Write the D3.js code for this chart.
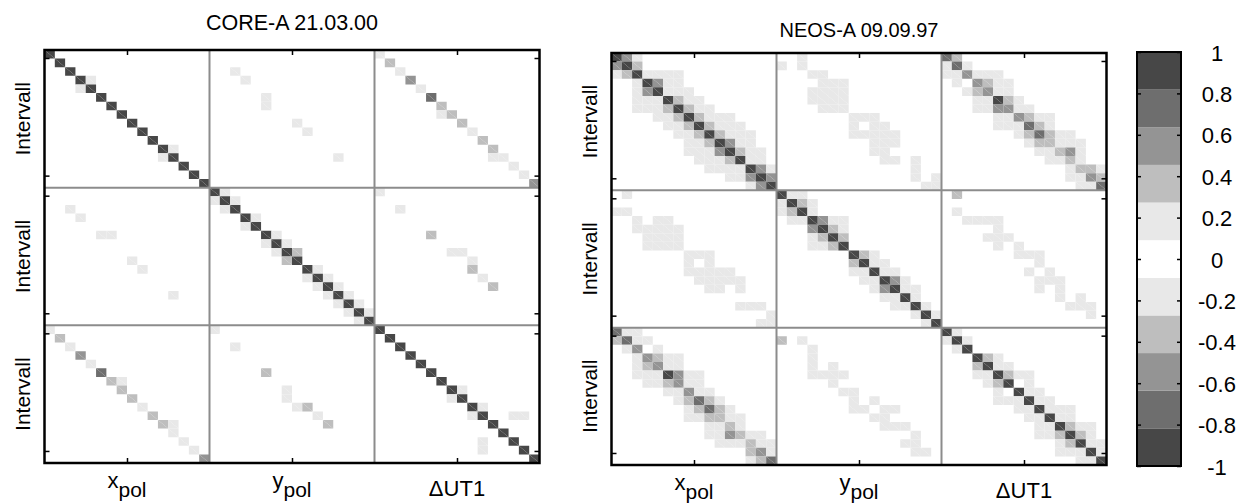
<!DOCTYPE html>
<html>
<head>
<meta charset="utf-8">
<script src="https://cdn.jsdelivr.net/npm/d3@7"></script>
<style>
  body { margin: 0; background: #fff; }
  text { font-family: "Liberation Sans", Arial, sans-serif; fill: #000; }
</style>
</head>
<body>
<svg id="chart" width="1242" height="504"></svg>
<script>
// intervals per parameter block
const nInt = 16
const paramNames = ["x", "y", "\u0394UT1"]
const paramSubs = ["pol", "pol", ""]
const titles = ["CORE-A 21.03.00", "NEOS-A 09.09.97"]
const cbTicks = [-1, -0.8, -0.6, -0.4, -0.2, 0, 0.2, 0.4, 0.6, 0.8, 1]
const levelColors = ["#474747", "#6e6e6e", "#949494", "#bebebe", "#e8e8e8", "#ffffff",
                     "#e8e8e8", "#bebebe", "#949494", "#6e6e6e", "#474747"]

// off-diagonal correlations [row, col, r], upper triangle (matrix is symmetric, diagonal = 1)
const coreA = [
  [3,4,.18],[11,12,.18],
  [2,18,.18],[3,19,.18],[5,21,.18],[6,21,.18],[8,24,.18],[9,25,.18],[12,28,.18],
  [0,32,.18],[1,33,.35],[2,34,.18],[3,35,.55],[4,36,.18],[5,37,.7],[6,38,.35],[7,38,.18],
  [7,39,.35],[8,40,.35],[9,41,.18],[10,42,.35],[11,43,.35],[12,43,.18],[12,44,.18],
  [13,45,.18],[14,46,.18],[15,47,.55],
  [16,17,.18],[17,18,.18],[19,20,.18],[21,22,.18],[22,23,.18],[23,24,.35],[25,26,.18],
  [26,27,.18],[27,28,.18],[28,29,.18],[29,30,.18],[30,31,.18],
  [16,32,.18],[18,34,.18],[21,37,.35],[23,39,.18],[23,40,.18],[24,41,.18],[25,41,.35],
  [26,42,.18],[27,43,.35],
  [39,40,.18],[41,42,.18],[42,45,.18],[42,46,.18]
]

const neosA = [
  [0,1,.55],[0,2,.18],[1,2,.35],
  [2,3,.18],[2,4,.18],[2,5,.18],[2,6,.18],
  [3,4,.55],[3,5,.18],[3,6,.18],
  [4,5,.18],[4,6,.18],[4,7,.18],
  [5,6,.35],[5,7,.18],[5,8,.18],
  [6,7,.35],[6,8,.18],[6,9,.18],
  [7,8,.35],[7,9,.18],[7,10,.18],[7,11,.18],
  [8,9,.35],[8,10,.18],[8,11,.18],[8,12,.18],
  [9,10,.35],[9,11,.18],[9,12,.18],[9,13,.18],
  [10,11,.55],[10,12,.18],[10,13,.18],
  [11,12,.35],[11,13,.18],[11,14,.18],
  [12,13,.18],[12,14,.18],
  [13,14,.55],[13,15,.18],
  [14,15,.55],
  [1,16,.18],[0,18,.18],[1,18,.18],
  [2,19,.18],[2,20,.18],
  [3,20,.18],[3,21,.18],[3,22,.18],
  [4,19,.18],[4,20,.18],[4,21,.18],[4,22,.18],
  [5,19,.18],[5,20,.18],[5,21,.18],[5,22,.18],
  [6,20,.18],[6,21,.18],[6,22,.18],
  [7,23,.18],[7,24,.18],[7,25,.18],
  [8,23,.18],[8,25,.18],[8,26,.18],
  [9,23,.18],[9,24,.18],[9,25,.18],[9,26,.18],[9,27,.18],
  [10,25,.18],[10,26,.18],[10,27,.18],
  [11,25,.18],[11,26,.18],
  [12,26,.18],[12,27,.18],[12,29,.18],
  [13,29,.18],
  [14,29,.18],[14,31,.18],
  [15,30,.18],[15,31,.18],
  [0,32,.7],[0,33,.35],
  [1,32,.18],[1,33,.7],[1,34,.18],
  [2,32,.18],[2,33,.18],[2,34,.55],[2,35,.18],[2,36,.18],[2,37,.18],
  [3,33,.18],[3,35,.55],[3,36,.35],[3,37,.18],[3,38,.18],
  [4,34,.18],[4,35,.35],[4,36,.55],[4,37,.18],[4,38,.18],
  [5,35,.18],[5,36,.18],[5,37,.9],[5,38,.35],[5,39,.18],
  [6,35,.18],[6,36,.18],[6,37,.55],[6,38,.55],[6,39,.18],[6,40,.18],
  [7,37,.18],[7,38,.18],[7,39,.55],[7,40,.35],[7,41,.18],[7,42,.18],
  [8,37,.18],[8,38,.18],[8,39,.18],[8,40,.7],[8,41,.35],[8,42,.18],
  [9,39,.18],[9,40,.35],[9,41,.7],[9,42,.35],[9,43,.18],[9,44,.18],
  [10,40,.18],[10,41,.35],[10,42,.35],[10,43,.18],[10,44,.18],[10,45,.18],
  [11,41,.18],[11,42,.18],[11,43,.35],[11,44,.55],[11,45,.18],
  [12,42,.18],[12,43,.18],[12,44,.35],[12,45,.18],
  [13,44,.18],[13,45,.35],[13,46,.35],[13,47,.18],
  [14,44,.18],[14,45,.18],[14,46,.55],[14,47,.35],
  [15,45,.18],[15,46,.18],[15,47,.7],
  [16,17,.18],[16,18,.18],[17,18,.35],[17,19,.18],[18,19,.18],[19,20,.55],[19,21,.18],
  [19,22,.18],[20,21,.35],[20,22,.18],[21,22,.35],[23,24,.35],[23,25,.18],[24,25,.18],
  [24,26,.18],[25,26,.18],[25,27,.18],[26,27,.55],[26,28,.18],[27,28,.18],[27,29,.18],
  [28,29,.18],[29,30,.18],[30,31,.18],
  [16,33,.35],[18,33,.18],[19,34,.18],[19,35,.18],[19,36,.18],[19,37,.18],[20,37,.18],
  [21,36,.18],[21,37,.18],[21,38,.18],[22,37,.18],[22,39,.18],[23,39,.18],[23,40,.18],
  [23,41,.18],[24,41,.18],[25,40,.18],[25,42,.18],[26,41,.18],[26,42,.18],[26,43,.18],
  [27,41,.18],[27,43,.18],[28,43,.18],[28,45,.18],[29,44,.18],[29,45,.18],[29,46,.18],
  [30,46,.18],
  [32,33,.18],[33,34,.18],[35,36,.35],[35,37,.18],[36,37,.18],[36,38,.18],[37,38,.35],
  [37,39,.18],[37,40,.18],[38,40,.18],[39,40,.18],[39,41,.18],[40,41,.18],[40,42,.18],
  [41,42,.18],[41,43,.18],[41,44,.18],[42,43,.18],[42,44,.18],[43,44,.35],[43,45,.18],
  [43,46,.18],[44,45,.35],[44,46,.18],[45,46,.18],[45,47,.18],[46,47,.18]
]

const nTot = nInt * paramNames.length

let svg = d3.select("#chart")

let color = d3.scaleQuantize().domain([-1, 1]).range(levelColors)

let panels = [
  { title: titles[0], entries: coreA, x0: 44.5, x1: 539.5, y0: 50, y1: 463, titleY: 30, fs: 21.5, labY: 489 },
  { title: titles[1], entries: neosA, x0: 611.5, x1: 1106.5, y0: 53, y1: 465, titleY: 37, fs: 20, labY: 491 }
]

// build the full symmetric matrix from the upper triangle
function buildMatrix(entries) {
  let m = d3.range(nTot).map(i => d3.range(nTot).map(j => (i === j ? 1 : 0)))
  entries.forEach(([i, j, r]) => {
    m[i][j] = r
    m[j][i] = r
  })
  let cells = []
  m.forEach((row, i) => row.forEach((r, j) => cells.push({ i, j, r })))
  return cells
}

panels.forEach(p => {
  let x = d3.scaleLinear().domain([0, nTot]).range([p.x0, p.x1])
  let y = d3.scaleLinear().domain([0, nTot]).range([p.y0, p.y1])
  let g = svg.append("g")

  // each cell drawn as two triangles, like the original mesh
  let cells = buildMatrix(p.entries).filter(d => color(d.r) !== "#ffffff")
  g.selectAll("path.cell")
    .data(cells.flatMap(d => [{ ...d, t: 0 }, { ...d, t: 1 }]))
    .enter()
    .append("path")
    .attr("class", "cell")
    .attr("d", d => {
      let xa = x(d.j), xb = x(d.j + 1), ya = y(d.i), yb = y(d.i + 1)
      return d.t === 0
        ? `M${xa},${ya}L${xb},${ya}L${xb},${yb}Z`
        : `M${xa},${ya}L${xa},${yb}L${xb},${yb}Z`
    })
    .attr("fill", d => color(d.r))

  // block dividers
  let divs = d3.range(1, paramNames.length).map(k => k * nInt)
  g.selectAll("line.vdiv").data(divs).enter().append("line")
    .attr("x1", d => x(d)).attr("x2", d => x(d))
    .attr("y1", p.y0).attr("y2", p.y1)
    .attr("stroke", "#8c8c8c").attr("stroke-width", 2)
  g.selectAll("line.hdiv").data(divs).enter().append("line")
    .attr("y1", d => y(d)).attr("y2", d => y(d))
    .attr("x1", p.x0).attr("x2", p.x1)
    .attr("stroke", "#8c8c8c").attr("stroke-width", 2)

  // ticks
  let xTicks = d3.range(paramNames.length).map(k => k * nInt + nInt / 2)
  let yTicks = d3.range(paramNames.length).flatMap(k => [k * nInt + 0.93, k * nInt + 14.6])
  let axes = [
    g.append("g").attr("transform", `translate(0,${p.y0})`)
      .call(d3.axisTop(x).tickValues(xTicks).tickSizeInner(-5).tickSizeOuter(0).tickFormat("")),
    g.append("g").attr("transform", `translate(0,${p.y1})`)
      .call(d3.axisBottom(x).tickValues(xTicks).tickSizeInner(-5).tickSizeOuter(0).tickFormat("")),
    g.append("g").attr("transform", `translate(${p.x0},0)`)
      .call(d3.axisLeft(y).tickValues(yTicks).tickSizeInner(-5).tickSizeOuter(0).tickFormat("")),
    g.append("g").attr("transform", `translate(${p.x1},0)`)
      .call(d3.axisRight(y).tickValues(yTicks).tickSizeInner(-5).tickSizeOuter(0).tickFormat(""))
  ]
  axes.forEach(a => {
    a.select(".domain").remove()
    a.selectAll("line").attr("stroke", "#000").attr("stroke-width", 1.5)
  })

  // frame
  g.append("rect")
    .attr("x", p.x0).attr("y", p.y0)
    .attr("width", p.x1 - p.x0).attr("height", p.y1 - p.y0)
    .attr("fill", "none").attr("stroke", "#000").attr("stroke-width", 2.5)

  // title
  g.append("text")
    .attr("x", (p.x0 + p.x1) / 2).attr("y", p.titleY)
    .attr("text-anchor", "middle").attr("font-size", p.fs)
    .text(p.title)

  // left labels
  d3.range(paramNames.length).forEach(k => {
    g.append("text")
      .attr("transform", `translate(${p.x0 - 22},${y(k * nInt + nInt / 2)}) rotate(-90)`)
      .attr("text-anchor", "middle").attr("dominant-baseline", "central")
      .attr("font-size", 21)
      .text("Intervall")
  })

  // bottom labels
  paramNames.forEach((name, k) => {
    let t = g.append("text")
      .attr("x", x(k * nInt + nInt / 2))
      .attr("y", paramSubs[k] ? p.labY - 1 : p.labY + 7)
      .attr("text-anchor", "middle").attr("font-size", 22)
    t.append("tspan").text(name)
    if (paramSubs[k]) t.append("tspan").attr("dy", 9).attr("font-size", 21).text(paramSubs[k])
  })
})

// colour bar
let cbX = 1137, cbW = 44
let cb = d3.scaleLinear().domain([-1, 1]).range([466, 52])
let cbg = svg.append("g")
cbg.selectAll("rect.band")
  .data(levelColors.map((c, i) => ({ c, i })))
  .enter()
  .append("rect")
  .attr("x", cbX)
  .attr("y", d => cb(-1 + (d.i + 1) * 2 / levelColors.length))
  .attr("width", cbW)
  .attr("height", d => cb(-1 + d.i * 2 / levelColors.length) - cb(-1 + (d.i + 1) * 2 / levelColors.length))
  .attr("fill", d => d.c)

let cbAxR = cbg.append("g").attr("transform", `translate(${cbX + cbW},0)`)
  .call(d3.axisRight(cb).tickValues(cbTicks).tickSizeInner(-4).tickSizeOuter(0).tickFormat(""))
let cbAxL = cbg.append("g").attr("transform", `translate(${cbX},0)`)
  .call(d3.axisLeft(cb).tickValues(cbTicks).tickSizeInner(-4).tickSizeOuter(0).tickFormat(""))
;[cbAxR, cbAxL].forEach(a => {
  a.select(".domain").remove()
  a.selectAll("line").attr("stroke", "#000").attr("stroke-width", 1.5)
})
cbg.append("rect")
  .attr("x", cbX).attr("y", 52).attr("width", cbW).attr("height", 414)
  .attr("fill", "none").attr("stroke", "#000").attr("stroke-width", 2)

cbg.selectAll("text.cbl")
  .data(cbTicks)
  .enter()
  .append("text")
  .attr("x", 1217)
  .attr("y", d => cb(d) + 1)
  .attr("text-anchor", "middle")
  .attr("dominant-baseline", "central")
  .attr("font-size", 22)
  .text(d => String(+d.toFixed(1)))
</script>
</body>
</html>
